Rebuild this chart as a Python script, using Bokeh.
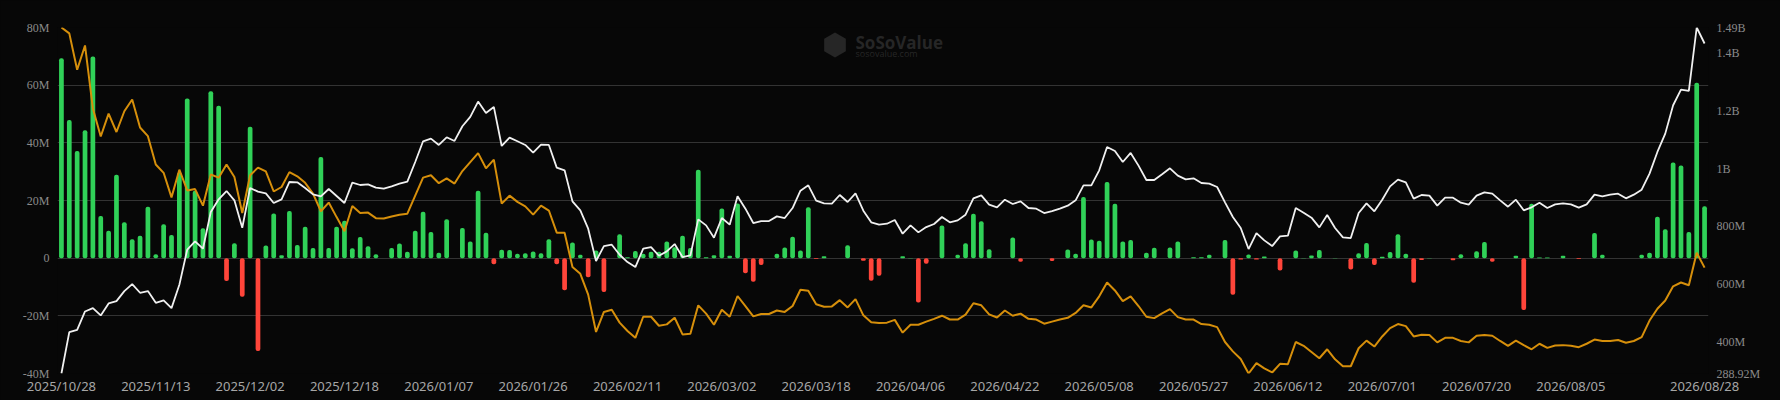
import math
import pandas as pd
from bokeh.plotting import figure
from bokeh.models import (Range1d, LinearAxis, FixedTicker, CustomJSTickFormatter,
                          ColumnDataSource, Label, PolyAnnotation)
from bokeh.embed import file_html
from bokeh.resources import INLINE

# ---------------- data ----------------
HOLIDAYS = ["2025-11-27", "2025-12-25", "2026-01-01", "2026-01-19", "2026-02-16",
            "2026-04-03", "2026-05-25", "2026-06-19", "2026-07-03"]
dates = [d.strftime("%Y/%m/%d") for d in
         pd.bdate_range("2025-10-28", "2026-08-28", freq="C", holidays=HOLIDAYS)]

TICK_LABELS = ["2025/10/28", "2025/11/13", "2025/12/02", "2025/12/18", "2026/01/07",
               "2026/01/26", "2026/02/11", "2026/03/02", "2026/03/18", "2026/04/06",
               "2026/04/22", "2026/05/08", "2026/05/27", "2026/06/12", "2026/07/01",
               "2026/07/20", "2026/08/05", "2026/08/28"]

# daily net inflow (M USD)
net_inflow = [
    69.3, 47.9, 37.2, 44.4, 69.9, 14.6, 9.5, 28.9, 12.5, 6.6,
    7.8, 17.8, 1.4, 11.8, 8.0, 29.7, 55.4, 23.4, 10.4, 57.9,
    52.9, -7.9, 5.2, -13.4, 45.6, -32.2, 4.4, 15.5, 1.0, 16.4,
    4.6, 10.9, 3.5, 35.1, 3.5, 10.9, 13.0, 3.4, 7.3, 4.1,
    1.4, 0, 3.5, 5.1, 2.2, 9.5, 16.1, 9.1, 1.9, 13.5,
    0, 10.5, 5.8, 23.4, 8.8, -2.1, 2.9, 2.8, 1.5, 1.7,
    2.3, 1.7, 6.6, -2.1, -11.1, 5.4, 1.2, -6.6, 2.7, -11.7,
    0, 8.3, 0.3, 2.5, 1.5, 2.2, 2.2, 5.8, 3.8, 7.8,
    3.5, 30.7, 0.3, 1.0, 17.2, 0.8, 19.0, -5.2, -8.2, -2.4,
    0, 1.5, 3.7, 7.4, 2.7, 17.7, -0.3, 0.7, 0, 0,
    4.5, 0, -0.9, -7.8, -6.1, 0, 0, 0.7, 0.1, -15.4,
    -1.9, 0, 11.3, 0, 1.2, 5.2, 15.4, 12.8, 3.1, 0,
    0, 7.2, -1.2, 0, 0, 0, -1.0, 0, 3.0, 1.5,
    21.2, 6.5, 6.0, 26.4, 18.9, 5.8, 6.3, 0, 1.9, 3.6,
    0, 3.7, 5.8, 0, 0.3, 0.3, 1.2, 0, 6.3, -12.7,
    -0.5, 1.3, -0.5, 0.6, 0, -4.3, 0, 2.7, 0.1, 0.9,
    2.8, 0, 0.1, 0, -3.9, 1.7, 5.3, -2.4, 0.5, 2.1,
    8.3, 1.5, -8.5, -0.6, 0.1, 0, 0, -0.7, 1.4, 0,
    2.4, 5.6, -1.2, 0, 0, 0.8, -18.0, 18.9, 0.2, 0.2,
    0, 0.8, 0, -0.3, 0, 8.7, 1.2, 0, 0, 0,
    0, 1.2, 1.9, 14.4, 10.0, 33.2, 32.1, 9.1, 60.8, 18.0,
]

# total net assets (M USD)
net_assets = [
    288.92, 432.5, 440.6, 504.3, 515.9, 490.4, 532.1, 540.2, 575.0, 599.3,
    569.2, 575.0, 534.4, 542.5, 515.9, 597.0, 718.6, 747.5, 722.1, 849.5,
    893.5, 922.4, 890.0, 795.0, 932.9, 920.1, 914.3, 880.7, 893.5, 953.7,
    952.5, 932.9, 910.8, 903.9, 929.4, 905.1, 880.7, 951.4, 943.3, 945.6,
    934.0, 930.5, 938.6, 947.9, 954.9, 1023.2, 1095.0, 1104.3, 1082.3, 1108.9,
    1096.2, 1147.1, 1179.6, 1232.8, 1193.5, 1214.3, 1078.8, 1107.7, 1095.0, 1082.3,
    1055.6, 1083.4, 1082.3, 1003.5, 994.2, 886.5, 855.3, 791.6, 679.2, 731.3,
    736.0, 701.2, 675.7, 658.4, 722.1, 727.9, 697.7, 712.8, 738.3, 693.1,
    698.9, 824.0, 803.1, 760.3, 828.6, 805.5, 903.9, 861.1, 811.2, 818.2,
    818.2, 834.4, 828.6, 863.4, 923.6, 942.1, 888.9, 879.6, 878.4, 908.5,
    884.2, 914.3, 854.1, 813.6, 805.5, 808.9, 821.7, 774.2, 803.1, 778.8,
    797.3, 807.8, 832.1, 813.6, 820.5, 840.2, 897.0, 907.4, 874.9, 865.7,
    892.3, 877.3, 886.5, 863.4, 861.1, 846.0, 852.9, 861.1, 871.5, 890.0,
    942.1, 942.1, 994.2, 1075.3, 1061.4, 1023.2, 1054.5, 1010.5, 960.7, 960.7,
    980.3, 1001.2, 975.7, 963.0, 966.4, 950.2, 947.9, 936.3, 883.1, 832.1,
    793.9, 720.9, 776.5, 751.0, 731.3, 764.9, 767.2, 863.4, 847.2, 829.8,
    796.2, 839.0, 793.9, 761.4, 759.1, 846.0, 879.6, 851.8, 892.3, 938.6,
    961.8, 952.5, 895.8, 908.5, 906.2, 871.5, 899.3, 899.3, 881.9, 874.9,
    906.2, 917.8, 913.2, 890.0, 868.0, 892.3, 855.3, 865.7, 881.9, 863.4,
    876.1, 879.6, 876.1, 864.5, 876.1, 909.7, 903.9, 909.7, 913.2, 897.0,
    909.7, 927.1, 982.7, 1057.9, 1121.6, 1220.1, 1274.5, 1269.9, 1490.0, 1434.4,
]

# underlying price (hidden scale)
price = [
    200.0, 198.3, 187.8, 194.8, 176.6, 168.5, 175.1, 169.8, 175.8, 179.2,
    171.1, 168.6, 160.4, 158.0, 150.9, 158.9, 152.9, 153.3, 148.5, 157.5,
    156.6, 160.4, 156.8, 146.4, 157.3, 159.5, 158.4, 152.6, 153.9, 158.2,
    157.0, 155.1, 152.0, 146.9, 149.4, 145.2, 141.1, 148.4, 146.4, 146.5,
    144.9, 144.8, 145.4, 145.9, 146.2, 151.4, 156.6, 157.3, 155.0, 156.4,
    154.9, 158.5, 161.1, 163.7, 159.3, 161.8, 149.1, 151.4, 149.6, 148.3,
    145.9, 148.5, 147.1, 140.7, 140.7, 130.8, 128.8, 122.8, 112.0, 117.8,
    118.4, 114.7, 112.3, 110.3, 116.4, 116.4, 113.8, 114.2, 116.1, 111.3,
    111.5, 119.7, 117.3, 114.1, 118.4, 116.4, 122.4, 119.5, 116.5, 117.2,
    117.2, 118.2, 117.8, 119.5, 124.2, 123.9, 120.0, 119.3, 119.4, 121.2,
    119.1, 121.5, 116.8, 114.8, 114.6, 114.7, 115.5, 111.8, 114.1, 114.1,
    115.0, 115.8, 116.7, 115.6, 115.6, 117.0, 120.3, 119.7, 117.1, 116.2,
    118.2, 116.7, 117.3, 115.8, 115.6, 114.4, 115.0, 115.6, 116.1, 117.5,
    119.7, 119.1, 122.3, 126.3, 124.0, 120.9, 122.3, 119.5, 116.4, 116.0,
    117.4, 118.6, 116.3, 115.6, 115.6, 114.3, 114.1, 113.4, 109.1, 106.4,
    104.2, 100.0, 103.0, 101.5, 100.3, 102.8, 102.7, 109.1, 108.0, 106.2,
    104.4, 107.0, 104.1, 102.1, 102.1, 107.3, 109.5, 107.8, 110.7, 113.1,
    114.3, 113.7, 110.7, 111.2, 111.1, 109.0, 110.3, 110.3, 109.4, 109.0,
    110.9, 111.1, 110.9, 109.4, 108.0, 109.5, 108.2, 107.0, 108.6, 107.4,
    108.1, 108.2, 108.0, 107.6, 108.6, 109.8, 109.4, 109.4, 109.7, 108.9,
    109.4, 110.5, 115.3, 118.7, 121.1, 125.2, 126.3, 125.5, 134.9, 130.6,
]

LEFT_TICKS = [-40, -20, 0, 20, 40, 60, 80]
RIGHT_TICKS = [288.92, 400, 600, 800, 1000, 1200, 1400, 1490]

# ---------------- styling ----------------
BG = "#070707"
GREEN = "#30d158"
RED = "#ff453a"
WHITE = "#f0f0f0"
ORANGE = "#d68f0b"

idx = list(range(len(dates)))
src = ColumnDataSource(dict(
    x=idx, d=dates, v=net_inflow, nav=net_assets, price=price,
    c=[GREEN if v >= 0 else RED for v in net_inflow],
))

p = figure(width=1780, height=400, output_backend="svg", toolbar_location=None,
           x_range=Range1d(-0.5, len(dates) - 0.5),
           y_range=Range1d(LEFT_TICKS[0], LEFT_TICKS[-1]),
           min_border_left=57, min_border_right=72, min_border_top=27, min_border_bottom=27,
           background_fill_color=BG, border_fill_color=BG, outline_line_color=None)
p.extra_y_ranges = {"nav": Range1d(RIGHT_TICKS[0], RIGHT_TICKS[-1]),
                    "price": Range1d(min(price), max(price))}

p.xgrid.visible = False
p.ygrid.grid_line_color = "#333333"
p.ygrid.grid_line_width = 1

# left axis
yl = p.yaxis[0]
yl.ticker = FixedTicker(ticks=LEFT_TICKS)
yl.formatter = CustomJSTickFormatter(code="return tick == 0 ? '0' : tick + 'M';")

# right axis
yr = LinearAxis(y_range_name="nav", ticker=FixedTicker(ticks=RIGHT_TICKS),
                formatter=CustomJSTickFormatter(code="""
                    if (tick >= 1000) { return parseFloat((tick/1000).toFixed(2)) + 'B'; }
                    return parseFloat(tick.toFixed(2)) + 'M';"""))
p.add_layout(yr, "right")

for ax in (yl, yr):
    ax.axis_line_color = None
    ax.major_tick_line_color = None
    ax.minor_tick_line_color = None
    ax.major_tick_out = 0
    ax.major_tick_in = 0
    ax.major_label_standoff = 8
    ax.major_label_text_font = "Liberation Serif"
    ax.major_label_text_font_size = "12px"
    ax.major_label_text_color = "#8a8a8a"

xa = p.xaxis[0]
tick_pos = [dates.index(t) for t in TICK_LABELS]
xa.ticker = FixedTicker(ticks=tick_pos)
xa.major_label_overrides = {i: t for i, t in zip(tick_pos, TICK_LABELS)}
xa.axis_line_color = None
xa.major_tick_line_color = None
xa.minor_tick_line_color = None
xa.major_tick_out = 0
xa.major_tick_in = 0
xa.major_label_standoff = 3
xa.major_label_text_font = "Noto Sans"
xa.major_label_text_font_size = "13px"
xa.major_label_text_color = "#a6a6a6"

# watermark (screen units are relative to the plot frame)
hex_cx, hex_cy, hex_r = 777.5, 328.5, 12.5
p.add_layout(PolyAnnotation(
    xs=[hex_cx + hex_r * math.cos(math.radians(90 + 60 * k)) for k in range(6)],
    ys=[hex_cy + hex_r * math.sin(math.radians(90 + 60 * k)) for k in range(6)],
    xs_units="screen", ys_units="screen",
    fill_color="#262626", fill_alpha=1, line_color=None, level="underlay"))
p.add_layout(Label(x=798, y=331.5, x_units="screen", y_units="screen", text="SoSoValue",
                   text_font="Open Sans", text_font_style="bold", text_font_size="17px",
                   text_color="#262626", text_baseline="middle", level="underlay"))
p.add_layout(Label(x=798, y=320.5, x_units="screen", y_units="screen", text="sosovalue.com",
                   text_font="Open Sans", text_font_size="9px",
                   text_color="#262626", text_baseline="middle", level="underlay"))

# bars and lines
p.vbar(x="x", top="v", bottom=0, width=0.6, fill_color="c", line_color=None,
       border_radius=2, source=src)
p.line("x", "price", y_range_name="price", line_color=ORANGE, line_width=2, source=src)
p.line("x", "nav", y_range_name="nav", line_color=WHITE, line_width=1.8, source=src)

html = file_html(p, INLINE)
html = html.replace("<head>", "<head><style>html,body{background:#070707;}</style>", 1)
open("out.html", "w").write(html)
